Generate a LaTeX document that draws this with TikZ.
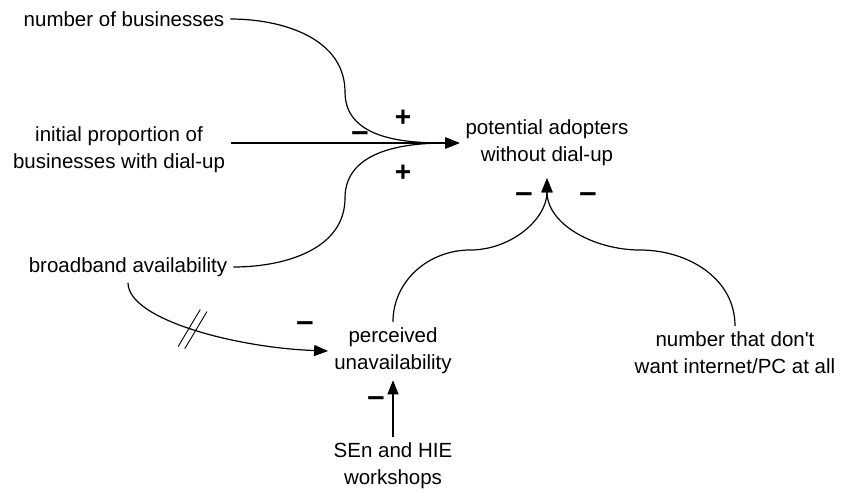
\documentclass[tikz,border=0pt]{standalone}
\usepackage{fontspec}
\setmainfont{Liberation Sans}
\usetikzlibrary{arrows.meta,decorations.markings}
\tikzset{
  var/.style={align=center, inner sep=6pt, font=\fontsize{20.5}{27}\selectfont},
  link/.style={-{Triangle[length=14pt,width=11pt]}, line width=1.2pt},
  possign/.style={inner sep=0pt, font=\fontsize{28}{28}\bfseries\selectfont},
  negsign/.style={inner sep=0pt, font=\fontsize{31}{31}\bfseries\selectfont},
  delay/.style={postaction={decorate}, decoration={markings,
    mark=at position 0.38 with {\draw[-, line width=0.9pt] (-9pt,-21pt) -- (1pt,21pt) (-2pt,-21pt) -- (8pt,21pt);}}}
}
\begin{document}
\begin{tikzpicture}[x=1pt, y=-1pt]
    \useasboundingbox (0,0) rectangle (841,491);
\node[var] (nb) at (124,19) {number of businesses};
\node[var] (ip) at (119,150) {initial proportion of\\businesses with dial-up};
\node[var] (ba) at (128,267) {broadband availability};
\node[var] (pa) at (547,143) {potential adopters\\without dial-up};
\node[var] (pu) at (393,351) {perceived\\unavailability};
\node[var] (nw) at (735,353) {number that don\textquotesingle t\\want internet/PC at all};
\node[var] (ws) at (393,466) {SEn and HIE\\workshops};
    % links into potential adopters
    \draw[link] (nb.east) to[out=0, in=90] (345,92) to[out=-90, in=180] (pa.west);
    \draw[link] (ip.east |- pa.west) -- (pa.west);
    \draw[link] (ba.east) to[out=0, in=-90] (345,198) to[out=90, in=180] (pa.west);
    \draw[link] (pu.north) to[out=90, in=180] (470,250) to[out=0, in=-90] ([yshift=-6pt]pa.south);
    \draw[link] (nw.north) to[out=90, in=0] (640,250) to[out=180, in=-90] ([yshift=-6pt]pa.south);
    % links into perceived unavailability
    \draw[link, delay] (ba.south) to[out=-90, in=178, out looseness=0.45, in looseness=1.1] (pu.west);
    \draw[link] (ws.north) -- (pu.south);
\node[possign] (s1) at (403,118) {+};
\node[negsign] (s2) at (360,137) {–};
\node[possign] (s3) at (403,173) {+};
\node[negsign] (s4) at (524,198) {–};
\node[negsign] (s5) at (588,198) {–};
\node[negsign] (s6) at (305,327) {–};
\node[negsign] (s7) at (376,402) {–};
    \end{tikzpicture}
\end{document}
